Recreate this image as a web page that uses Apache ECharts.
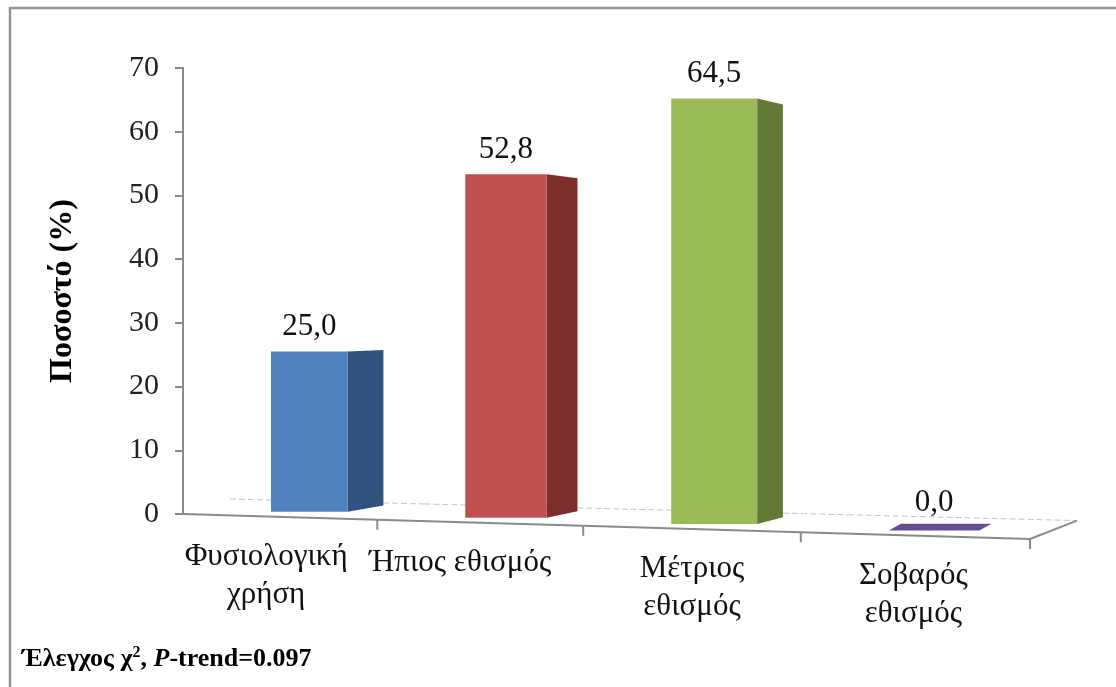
<!DOCTYPE html>
<html>
<head>
<meta charset="utf-8">
<script src="https://cdn.jsdelivr.net/npm/echarts@6/dist/echarts.min.js"></script>
<style>
  html, body { margin: 0; padding: 0; background: #ffffff; }
  #chart { width: 1116px; height: 687px; }
</style>
</head>
<body>
<div id="chart"></div>
<script>
// ---- data ----
const categories = ['Φυσιολογική\nχρήση', 'Ήπιος εθισμός', 'Μέτριος\nεθισμός', 'Σοβαρός\nεθισμός'];
const percentages = [25.0, 52.8, 64.5, 0.0];
const frontColors = ['#4f81bd', '#c0504d', '#9bbb59', '#8064a2'];
const sideColors = ['#31527f', '#7b2e2c', '#627936', '#654d92'];
const axisMin = 0;
const axisMax = 70;
const axisStep = 10;
const axisTitle = 'Ποσοστό (%)';

const SERIF = '"Liberation Serif", "Times New Roman", serif';
const AXIS_GREY = '#8a8a8a';
// horizontal nudge of each category caption (perspective placement)
const captionNudge = [-14, -20, 0, -2];

// ---- pseudo-3D helpers (floor slants down to the right, slots foreshorten) ----
const FLOOR_SLOPE = 0.0295;
const warp = t => t - 0.11 * t * (1 - t);

function slotBounds(api, idx) {
  const n = categories.length;
  const band = api.size([1, 0])[0];
  const first = api.coord([0, 0]);
  const x0 = first[0] - band / 2;
  const total = band * n;
  return {
    x0,
    y0: first[1],
    L: x0 + total * warp(idx / n),
    R: x0 + total * warp((idx + 1) / n)
  };
}

function renderFloor(params, api) {
  const i = params.dataIndex;
  const { x0, y0, L, R } = slotBounds(api, i);
  const fy = x => y0 + (x - x0) * FLOOR_SLOPE;
  const back = x => [x + 47, fy(x) - 15 - 0.004 * (x - x0)];
  const bl = back(L), br = back(R);
  const children = [
    { type: 'line', shape: { x1: bl[0], y1: bl[1], x2: br[0], y2: br[1] },
      style: { stroke: '#c4c4c4', lineWidth: 1, lineDash: [6, 3] } },
    { type: 'line', shape: { x1: L, y1: fy(L), x2: R, y2: fy(R) },
      style: { stroke: AXIS_GREY, lineWidth: 2 } },
    { type: 'line', shape: { x1: R, y1: fy(R), x2: R, y2: fy(R) + 10 },
      style: { stroke: AXIS_GREY, lineWidth: 2 } }
  ];
  if (i === categories.length - 1) {
    children.push({ type: 'line', shape: { x1: R, y1: fy(R), x2: br[0], y2: br[1] },
      style: { stroke: AXIS_GREY, lineWidth: 2 } });
  }
  const cx = (L + R) / 2;
  children.push({
    type: 'text',
    style: {
      text: categories[i], x: cx + captionNudge[i], y: fy(cx) + 21,
      align: 'center', verticalAlign: 'top',
      font: '31px ' + SERIF, lineHeight: 38, fill: '#111'
    }
  });
  return { type: 'group', children };
}

function renderBar(params, api) {
  const i = params.dataIndex;
  const val = api.value(1);
  const { x0, y0, L, R } = slotBounds(api, i);
  const slot = R - L;
  const cx = (L + R) / 2;
  const fx0 = L + 88;
  const fw = 0.395 * slot;
  const fx1 = fx0 + fw;
  const yb = y0 + (cx - x0) * FLOOR_SLOPE - 5;
  const h = (y0 - api.coord([i, val])[1]) * (1 + 0.00007 * (cx - x0));
  const yt = yb - h;
  const sw = 38 - 0.024 * (cx - x0);
  const dz = y => -(y - 300) * 0.03;
  const children = [];
  if (h > 0.5) {
    children.push({
      type: 'polygon',
      shape: { points: [[fx1, yt], [fx1 + sw, yt + dz(yt)], [fx1 + sw, yb + dz(yb)], [fx1, yb]] },
      style: { fill: sideColors[i] }
    });
    children.push({
      type: 'rect', shape: { x: fx0, y: yt, width: fw, height: h },
      style: { fill: frontColors[i] }
    });
  } else {
    const dx = sw * 0.6;
    children.push({
      type: 'polygon',
      shape: { points: [[fx0, yb], [fx1, yb], [fx1 + dx, yb + dz(yb)], [fx0 + dx, yb + dz(yb)]] },
      style: { fill: sideColors[i] }
    });
  }
  children.push({
    type: 'text',
    style: {
      text: val.toFixed(1).replace('.', ','),
      x: (fx0 + fx1) / 2, y: yt - (h > 0.5 ? 9 : 12),
      align: 'center', verticalAlign: 'bottom',
      font: '31px ' + SERIF, fill: '#111'
    }
  });
  return { type: 'group', children };
}

const seriesData = percentages.map((v, i) => [i, v]);

const chart = echarts.init(document.getElementById('chart'));
chart.setOption({
  backgroundColor: '#ffffff',
  animation: false,
  grid: { left: 183, right: 86, top: 68, bottom: 173 },
  xAxis: {
    type: 'category',
    data: categories,
    axisLine: { show: false },
    axisTick: { show: false },
    axisLabel: { show: false },
    splitLine: { show: false }
  },
  yAxis: {
    type: 'value',
    min: axisMin,
    max: axisMax,
    interval: axisStep,
    axisLine: { show: true, lineStyle: { color: AXIS_GREY, width: 2 } },
    axisTick: { show: true, length: 8, lineStyle: { color: AXIS_GREY, width: 2 } },
    splitLine: { show: false },
    axisLabel: { fontFamily: SERIF, fontSize: 30, color: '#222', margin: 24 },
    name: axisTitle,
    nameLocation: 'middle',
    nameRotate: 90,
    nameGap: 104,
    nameTextStyle: { fontFamily: SERIF, fontSize: 32, fontWeight: 'bold', color: '#000' }
  },
  series: [
    { type: 'custom', name: 'floor', data: seriesData, encode: { x: 0, y: 1 },
      renderItem: renderFloor, clip: false, silent: true, z: 1 },
    { type: 'custom', name: axisTitle, data: seriesData, encode: { x: 0, y: 1 },
      renderItem: renderBar, clip: false, z: 2 }
  ],
  graphic: [
    { type: 'rect', silent: true, z: -10,
      shape: { x: 10, y: 8, width: 1200, height: 800 },
      style: { fill: 'none', stroke: '#959595', lineWidth: 2.5 } },
    { type: 'text', left: 22, top: 645, silent: true,
      style: {
        text: '{b|Έλεγχος χ}{sup|2}{b|, }{bi|P}{b|-trend=0.097}',
        rich: {
          b: { fontFamily: SERIF, fontSize: 26, fontWeight: 'bold', fill: '#000', verticalAlign: 'bottom' },
          sup: { fontFamily: SERIF, fontSize: 16, fontWeight: 'bold', fill: '#000', verticalAlign: 'top', padding: [0, 0, 11, 0] },
          bi: { fontFamily: SERIF, fontSize: 26, fontWeight: 'bold', fontStyle: 'italic', fill: '#000', verticalAlign: 'bottom' }
        }
      } }
  ]
});
</script>
</body>
</html>
